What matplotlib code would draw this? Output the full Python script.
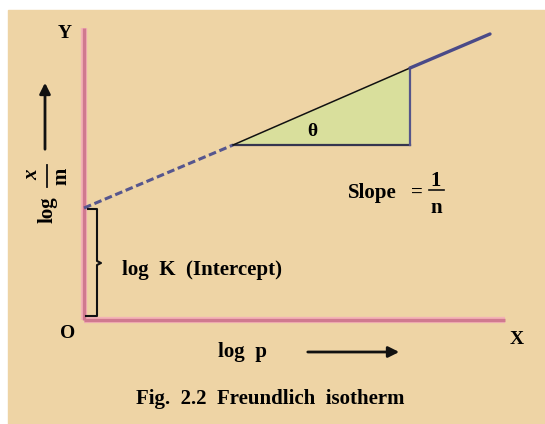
import matplotlib.pyplot as plt
from matplotlib.patches import Rectangle, Polygon

plt.rcParams['font.family'] = 'Liberation Serif'
plt.rcParams['font.weight'] = 'bold'

# %% Diagram values (units measured from the origin O)

# points along the isotherm: intercept, start of triangle, end of triangle, line end
log_p = [0, 149, 326, 406]
log_xm = [112, 175, 252, 286]

# length of the two axes
x_axis_len = 421
y_axis_len = 292

# %% Figure

fig = plt.figure(figsize=(5.45, 4.24), dpi=100)
ax = fig.add_axes([0, 0, 1, 1])
ax.set_xlim(-84, 461)
ax.set_ylim(-104, 320)
ax.axis('off')

# tan panel
ax.add_patch(Rectangle((-76, -104), 545, 414, color='#eed4a5', zorder=0))

# axes, pink with a light rim
for c, w in [('#f3b2b6', 4.5), ('#d0798f', 2.4)]:
    ax.plot([0, 0], [0, y_axis_len], color=c, lw=w, solid_capstyle='butt', zorder=2)
    ax.plot([0, x_axis_len], [0, 0], color=c, lw=w, solid_capstyle='butt', zorder=2)

# slope triangle
tri = Polygon([(log_p[1], log_xm[1]), (log_p[2], log_xm[1]), (log_p[2], log_xm[2])],
              closed=True, facecolor='#d9df9c', edgecolor='none', zorder=1)
ax.add_patch(tri)
ax.plot([log_p[1], log_p[2]], [log_xm[1], log_xm[1]], color='#35354f', lw=1.6, zorder=3)
ax.plot([log_p[2], log_p[2]], [log_xm[1], log_xm[2]], color='#55558a', lw=1.6, zorder=3)

# isotherm line: dashed extrapolation, hypotenuse, solid continuation
ax.plot(log_p[0:2], log_xm[0:2], color='#56568e', lw=2.2, dashes=(2.5, 1.2), zorder=3)
ax.plot(log_p[1:3], log_xm[1:3], color='#111111', lw=1.1, zorder=3)
ax.plot(log_p[2:4], log_xm[2:4], color='#4a4a88', lw=2.4, solid_capstyle='round', zorder=3)

# brace for the intercept
bx = 13
ax.plot([4, bx, bx, bx + 4, bx, bx, 2],
        [log_xm[0] - 1, log_xm[0] - 1, 59, 57, 55, 4, 4],
        color='#111111', lw=1.5, zorder=3)

# %% Text

fs = 15

ax.text(-19, 287, 'Y', fontsize=14, ha='center', va='center')
ax.text(-16, -13, 'O', fontsize=14, ha='center', va='center')
ax.text(433, -19, 'X', fontsize=14, ha='center', va='center')

ax.text(159, -32, 'log  p', fontsize=fs, ha='center', va='center')
ax.annotate('', xy=(318, -32), xytext=(221, -32),
            arrowprops=dict(arrowstyle='-|>', color='#111111', lw=2, mutation_scale=16))

# y label: log x/m, turned upright
ax.text(-36, 110, 'log', fontsize=fs, rotation=90, ha='center', va='center')
ax.text(-52, 145, 'x', fontsize=fs, style='italic', rotation=90, ha='center', va='center')
ax.plot([-37, -37], [133, 155], color='#111111', lw=1.3)
ax.text(-23, 144, 'm', fontsize=fs, rotation=90, ha='center', va='center')
ax.annotate('', xy=(-39, 240), xytext=(-39, 168),
            arrowprops=dict(arrowstyle='-|>', color='#111111', lw=2, mutation_scale=16))

ax.text(38, 50, 'log  K  (Intercept)', fontsize=fs, ha='left', va='center')

ax.text(228, 189, '\u03b8', fontsize=14, ha='center', va='center')

ax.text(288, 122, 'Slope', fontsize=fs, ha='center', va='baseline')
ax.text(333, 127, '=', fontsize=fs, ha='center', va='center')
ax.text(352, 134, '1', fontsize=fs, ha='center', va='baseline')
ax.plot([345, 360], [130, 130], color='#111111', lw=1.2)
ax.text(352, 107, 'n', fontsize=fs, ha='center', va='baseline')

ax.text(186, -84, 'Fig.  2.2  Freundlich  isotherm', fontsize=fs, ha='center', va='baseline')

fig.savefig('out.png', dpi=100, facecolor='white')
